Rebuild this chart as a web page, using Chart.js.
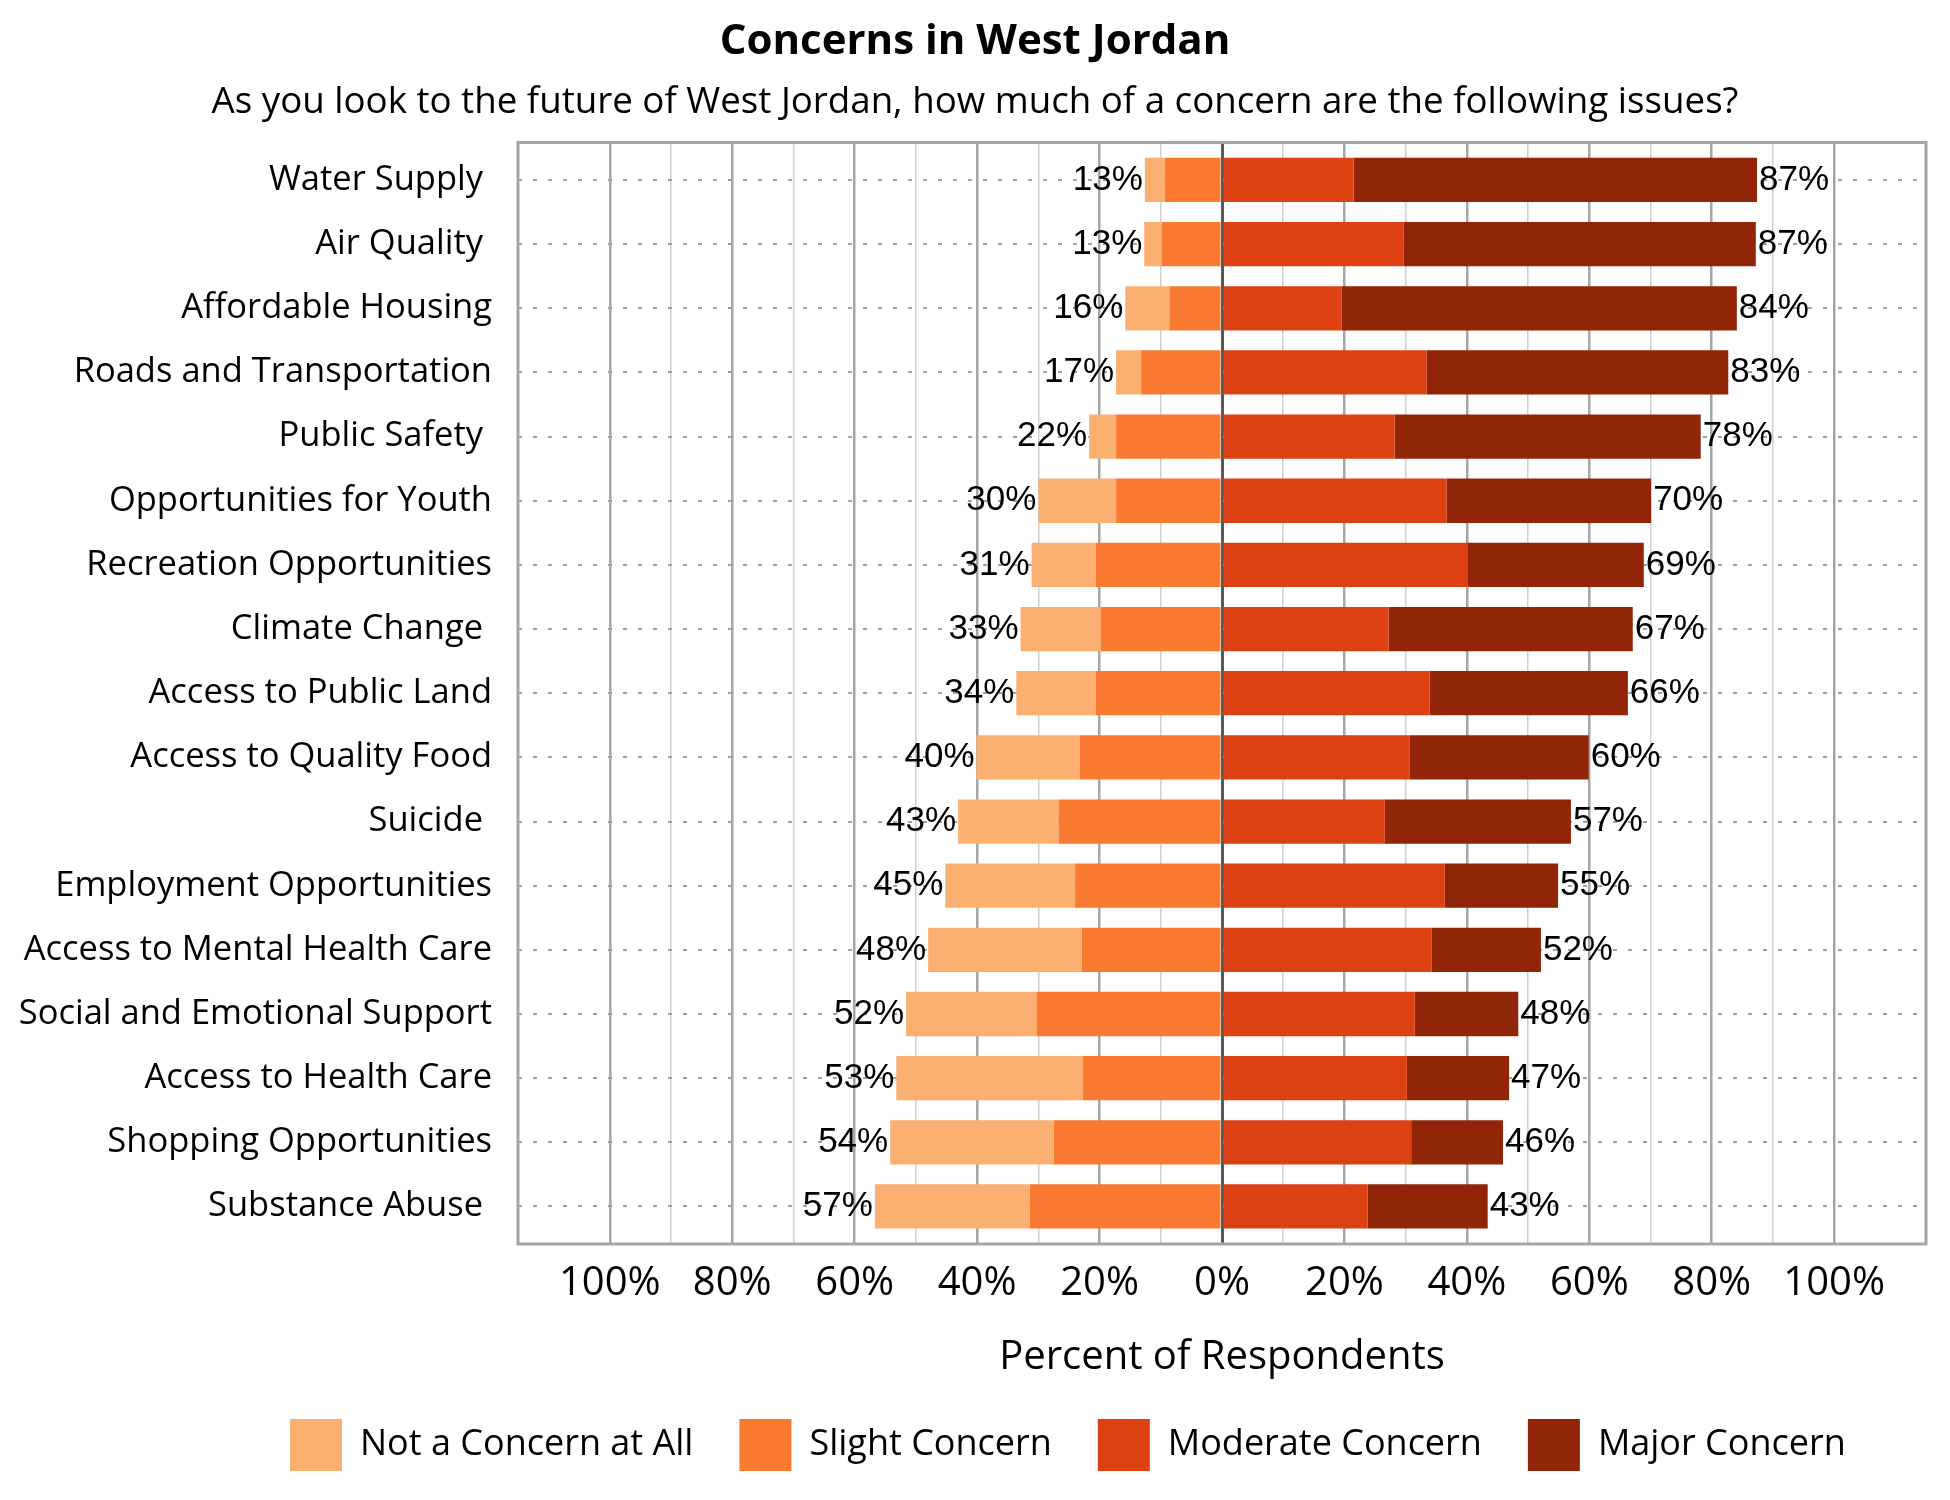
<!DOCTYPE html>
<html>
<head>
<meta charset="utf-8">
<title>Concerns in West Jordan</title>
<script src="https://cdn.jsdelivr.net/npm/chart.js@4.4.1/dist/chart.umd.min.js"></script>
<style>
  html, body { margin: 0; padding: 0; background: #ffffff; }
  canvas { display: block; }
</style>
</head>
<body>
<canvas id="concernsChart" width="1950" height="1500"></canvas>
<script>
// Categorías (algunas etiquetas traen un espacio al final, como en el original)
const categories = [
  'Water Supply ',
  'Air Quality ',
  'Affordable Housing',
  'Roads and Transportation',
  'Public Safety ',
  'Opportunities for Youth',
  'Recreation Opportunities',
  'Climate Change ',
  'Access to Public Land',
  'Access to Quality Food',
  'Suicide ',
  'Employment Opportunities',
  'Access to Mental Health Care',
  'Social and Emotional Support',
  'Access to Health Care',
  'Shopping Opportunities',
  'Substance Abuse '
];

// Porcentajes
const notConcern = [3.3, 2.9, 7.2, 4.1, 4.4, 12.7, 10.5, 13.1, 13.0, 16.9, 16.4, 21.2, 25.1, 21.3, 30.5, 26.7, 25.3];
const slightConcern = [9.3, 9.8, 8.6, 13.2, 17.3, 17.3, 20.6, 19.8, 20.6, 23.2, 26.7, 24.0, 22.9, 30.3, 22.7, 27.5, 31.4];
const moderateConcern = [21.5, 29.7, 19.5, 33.4, 28.2, 36.7, 40.1, 27.2, 33.9, 30.7, 26.6, 36.4, 34.2, 31.5, 30.2, 30.9, 23.8];
const majorConcern = [65.9, 57.5, 64.6, 49.3, 50.0, 33.4, 28.8, 39.9, 32.4, 29.2, 30.4, 18.5, 17.9, 16.9, 16.7, 15.0, 19.6];

// Marcas del eje X
const tickValues = [-100, -90, -80, -70, -60, -50, -40, -30, -20, -10, 0, 10, 20, 30, 40, 50, 60, 70, 80, 90, 100];
const tickLabels = ['100%', '', '80%', '', '60%', '', '40%', '', '20%', '', '0%', '', '20%', '', '40%', '', '60%', '', '80%', '', '100%'];

const FONT = "'Open Sans', 'Noto Sans', sans-serif";
const LABEL_FONT = "'Liberation Sans', Arial, sans-serif";

// orden de la leyenda (los datasets van en orden de apilado)
const legendRank = [1, 0, 2, 3];

// Marco alrededor del área del gráfico
const plotFrame = {
  id: 'plotFrame',
  beforeDatasetsDraw(chart) {
    const {ctx, chartArea: a} = chart;
    ctx.save();
    ctx.strokeStyle = '#a6a6a6';
    ctx.lineWidth = 3;
    ctx.strokeRect(a.left, a.top, a.right - a.left, a.bottom - a.top);
    ctx.restore();
  }
};

// En el original el título va un poco a la derecha y la leyenda no está centrada
const boxOffsets = {
  id: 'boxOffsets',
  afterLayout(chart) {
    chart.boxes.forEach((b) => {
      if (b.position === 'top' && b.options && typeof b.options.text === 'string') {
        b.left += 12;
        b.right += 12;
      }
    });
    if (chart.legend) {
      chart.legend.left = 244;
    }
  }
};

// Totales a cada lado de las barras
const totalLabels = {
  id: 'totalLabels',
  afterDatasetsDraw(chart) {
    const {ctx, scales: {x, y}} = chart;
    ctx.save();
    ctx.font = '35px ' + LABEL_FONT;
    ctx.fillStyle = '#000000';
    ctx.textBaseline = 'middle';
    categories.forEach((c, i) => {
      const left = notConcern[i] + slightConcern[i];
      const right = moderateConcern[i] + majorConcern[i];
      const yp = y.getPixelForValue(i);
      ctx.textAlign = 'right';
      ctx.fillText(Math.round(left) + '%', x.getPixelForValue(-left) - 2, yp);
      ctx.textAlign = 'left';
      ctx.fillText(Math.round(right) + '%', x.getPixelForValue(right) + 2, yp);
    });
    ctx.restore();
  }
};

const data = {
  labels: categories,
  datasets: [
    {
      label: 'Slight Concern',
      data: slightConcern.map(v => -v),
      backgroundColor: '#fa7a32'
    },
    {
      label: 'Not a Concern at All',
      data: notConcern.map(v => -v),
      backgroundColor: '#fbb072'
    },
    {
      label: 'Moderate Concern',
      data: moderateConcern,
      backgroundColor: '#dd4111'
    },
    {
      label: 'Major Concern',
      data: majorConcern,
      backgroundColor: '#912507'
    }
  ]
};

const config = {
  type: 'bar',
  data: data,
  options: {
    indexAxis: 'y',
    responsive: false,
    devicePixelRatio: 1,
    animation: false,
    categoryPercentage: 1,
    barPercentage: 0.69,
    layout: {
      padding: { top: 0, right: 24, bottom: 19, left: 0 }
    },
    plugins: {
      title: {
        display: true,
        text: 'Concerns in West Jordan',
        color: '#000000',
        font: { family: FONT, size: 42, weight: 'bold' },
        padding: { top: 17, bottom: 0 }
      },
      subtitle: {
        display: true,
        text: 'As you look to the future of West Jordan, how much of a concern are the following issues?',
        color: '#000000',
        font: { family: FONT, size: 36.7 },
        padding: { top: 13, bottom: 18 }
      },
      legend: {
        position: 'bottom',
        align: 'start',
        labels: {
          color: '#000000',
          font: { family: FONT, size: 36 },
          boxWidth: 52,
          boxHeight: 52,
          padding: 46,
          sort: (a, b) => legendRank[a.datasetIndex] - legendRank[b.datasetIndex]
        }
      },
      tooltip: { enabled: false }
    },
    scales: {
      x: {
        type: 'linear',
        stacked: true,
        min: -115,
        max: 115,
        afterBuildTicks: (scale) => {
          scale.ticks = tickValues.map(v => ({ value: v }));
        },
        ticks: {
          autoSkip: false,
          maxRotation: 0,
          color: '#000000',
          font: { family: FONT, size: 40 },
          padding: 16,
          callback: (value, index) => tickLabels[index]
        },
        grid: {
          drawTicks: false,
          color: (ctx) => {
            const v = ctx.tick ? ctx.tick.value : 1;
            if (v === 0) return '#595959';
            return v % 20 === 0 ? '#a6a6a6' : '#d0d0d0';
          },
          lineWidth: (ctx) => {
            const v = ctx.tick ? ctx.tick.value : 1;
            if (v === 0) return 3;
            return v % 20 === 0 ? 2.5 : 1.5;
          }
        },
        border: { display: false },
        title: {
          display: true,
          text: 'Percent of Respondents',
          color: '#000000',
          font: { family: FONT, size: 40 },
          padding: { top: 10, bottom: -9 }
        }
      },
      y: {
        type: 'category',
        stacked: true,
        afterFit: (scale) => { scale.width = 518; },
        // las categorías quedan un poco separadas del marco arriba y abajo
        afterBuildTicks: (scale) => {
          scale._startValue -= 0.085;
          scale._valueRange += 0.17;
        },
        ticks: {
          autoSkip: false,
          color: '#000000',
          font: { family: FONT, size: 34.5 },
          padding: 26
        },
        grid: {
          offset: false,
          drawTicks: false,
          color: '#a0a0a0',
          lineWidth: 2
        },
        border: { display: false, dash: [4, 11] }
      }
    }
  },
  plugins: [plotFrame, boxOffsets, totalLabels]
};

const concernsChart = new Chart(
  document.getElementById('concernsChart'),
  config
);
</script>
</body>
</html>
